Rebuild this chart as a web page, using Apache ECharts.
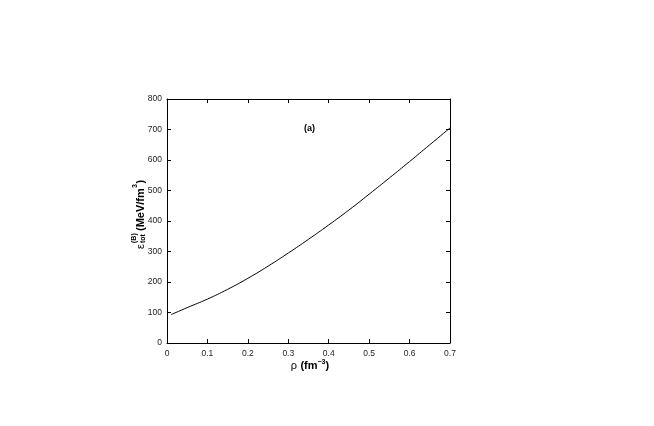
<!DOCTYPE html>
<html>
<head>
<meta charset="utf-8">
<script src="https://cdn.jsdelivr.net/npm/echarts@6/dist/echarts.min.js"></script>
<style>
  html, body { margin: 0; padding: 0; background: #fff; }
  #chart { width: 654px; height: 426px; }
</style>
</head>
<body>
<div id="chart"></div>
<script>
// density rho (fm^-3) and energy density (MeV/fm^3)
const rho = [0.01, 0.05, 0.1, 0.15, 0.2, 0.25, 0.3, 0.35, 0.4, 0.45, 0.5, 0.55, 0.6, 0.65, 0.7];
const energy = [93, 116, 144, 176, 212, 252, 295, 340, 387, 436, 488, 541, 595, 650, 705];
const xTicks = [0, 0.1, 0.2, 0.3, 0.4, 0.5, 0.6, 0.7];
const yTicks = [0, 100, 200, 300, 400, 500, 600, 700, 800];

const chart = echarts.init(document.getElementById('chart'));

const font = 'Liberation Sans, Arial, sans-serif';
const lineStyle = { color: '#000', width: 1 };

// axes shared settings, ticks point inward on all four sides
const baseX = {
  type: 'value', min: 0, max: 0.7, interval: 0.1,
  axisLine: { show: true, onZero: false, lineStyle: lineStyle },
  axisTick: { show: true, inside: true, length: 4, lineStyle: lineStyle },
  splitLine: { show: false }
};
const baseY = {
  type: 'value', min: 0, max: 800, interval: 100,
  axisLine: { show: true, onZero: false, lineStyle: lineStyle },
  axisTick: { show: true, inside: true, length: 4, lineStyle: lineStyle },
  splitLine: { show: false }
};

chart.setOption({
  animation: false,
  grid: { left: 167, top: 99, right: 204, bottom: 83 },
  xAxis: [
    Object.assign({}, baseX, {
      position: 'bottom',
      axisLabel: { color: '#222', fontSize: 8.5, fontFamily: font, margin: 6,
        formatter: v => xTicks.includes(+v.toFixed(1)) ? String(+v.toFixed(1)) : '' }
    }),
    Object.assign({}, baseX, { position: 'top', axisLabel: { show: false } })
  ],
  yAxis: [
    Object.assign({}, baseY, {
      position: 'left',
      axisLabel: { color: '#222', fontSize: 8.5, fontFamily: font, margin: 5,
        formatter: v => yTicks.includes(v) ? String(v) : '' }
    }),
    Object.assign({}, baseY, { position: 'right', axisLabel: { show: false } })
  ],
  series: [{
    type: 'line',
    data: rho.map((r, i) => [r, energy[i]]),
    smooth: true,
    showSymbol: false,
    lineStyle: { color: '#000', width: 1 }
  }],
  graphic: [
    {
      type: 'text', left: 304, top: 124,
      style: { text: '(a)', font: 'bold 9px ' + font, fill: '#000' }
    },
    {
      type: 'text', x: 310, y: 366,
      style: {
        text: '{r|ρ} {b|(fm}{s|−3}{b|)}',
        textAlign: 'center', textVerticalAlign: 'middle',
        rich: {
          r: { font: '11px ' + font, fill: '#000' },
          b: { font: 'bold 11px ' + font, fill: '#000' },
          s: { font: 'bold 7px ' + font, fill: '#000', verticalAlign: 'top', padding: [0, 0, 7, 0] }
        }
      }
    },
    {
      // y axis title, rotated to read bottom to top
      type: 'group', x: 141, y: 215, rotation: Math.PI / 2,
      children: [
        { type: 'text', x: -34, y: -0.5,
          style: { text: 'ε', font: '11px ' + font, fill: '#000', textVerticalAlign: 'middle' } },
        { type: 'text', x: -28, y: -7,
          style: { text: '(B)', font: 'bold 7px ' + font, fill: '#000', textVerticalAlign: 'middle' } },
        { type: 'text', x: -28, y: 2,
          style: { text: 'tot', font: 'bold 7px ' + font, fill: '#000', textVerticalAlign: 'middle' } },
        { type: 'text', x: -16, y: 0,
          style: { text: '(MeV/fm', font: 'bold 11px ' + font, fill: '#000', textVerticalAlign: 'middle' } },
        { type: 'text', x: 27, y: -5.5,
          style: { text: '3', font: 'bold 7px ' + font, fill: '#000', textVerticalAlign: 'middle' } },
        { type: 'text', x: 31.5, y: 0,
          style: { text: ')', font: 'bold 11px ' + font, fill: '#000', textVerticalAlign: 'middle' } }
      ]
    }
  ]
});
</script>
</body>
</html>
